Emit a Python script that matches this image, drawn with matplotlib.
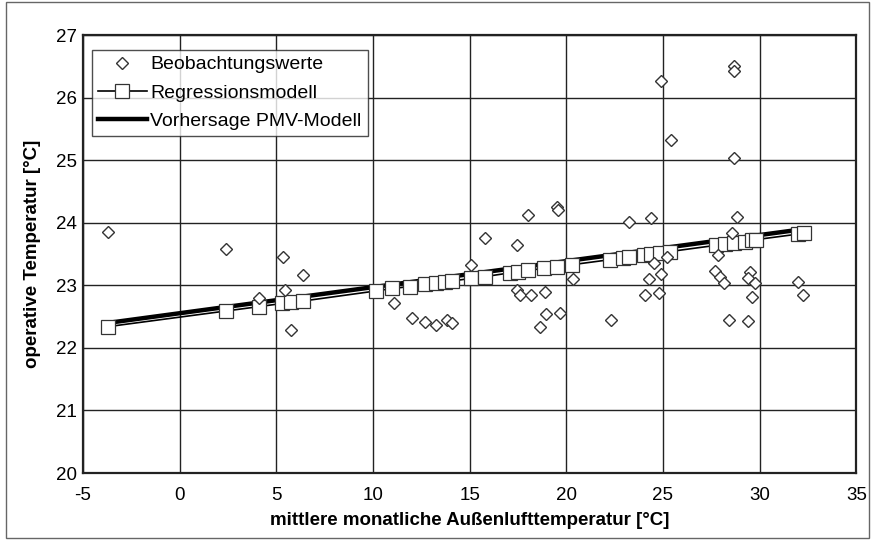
import matplotlib.pyplot as plt
from matplotlib.patches import Rectangle

plt.rcParams["font.family"] = ["Liberation Sans", "DejaVu Sans"]
plt.rcParams["axes.unicode_minus"] = False

# Beobachtungswerte (Außenlufttemperatur, operative Temperatur)
obs_x = [-3.7, 2.4, 4.1, 5.35, 5.45, 5.75, 6.4, 11.1, 12.0, 12.7, 13.25, 13.85, 14.1,
         15.05, 15.8, 17.45, 18.0, 17.45, 17.6, 18.2, 18.9, 18.65, 18.95, 19.5, 19.55,
         19.7, 20.35, 22.3, 23.25, 24.4, 24.55, 25.2, 24.9, 24.3, 24.05, 24.8, 24.9,
         25.4, 28.65, 28.7, 28.7, 28.85, 28.55, 27.85, 27.7, 27.95, 28.15, 29.5, 29.4,
         29.75, 29.6, 28.4, 29.4, 32.0, 32.25]
obs_y = [23.85, 23.58, 22.8, 23.45, 22.93, 22.28, 23.17, 22.72, 22.48, 22.42, 22.36, 22.45, 22.4,
         23.33, 23.76, 23.65, 24.12, 22.93, 22.85, 22.84, 22.9, 22.34, 22.55, 24.25, 24.2,
         22.56, 23.1, 22.45, 24.02, 24.07, 23.36, 23.45, 23.18, 23.1, 22.85, 22.87, 26.27,
         25.33, 26.5, 26.42, 25.03, 24.1, 23.83, 23.48, 23.23, 23.13, 23.04, 23.22, 23.12,
         23.03, 22.82, 22.45, 22.43, 23.05, 22.85]

# Regressionsmodell
reg_x = [-3.7, 2.4, 4.1, 5.3, 5.75, 6.4, 10.15, 11.0, 11.9, 12.7, 13.25, 13.75, 14.1,
         15.05, 15.8, 17.1, 17.5, 18.0, 18.85, 19.5, 20.3, 22.25, 22.95, 23.25, 24.0,
         24.4, 24.85, 25.35, 27.75, 28.2, 28.7, 29.25, 29.6, 29.8, 32.0, 32.3]
reg_y = [22.34, 22.59, 22.66, 22.71, 22.73, 22.75, 22.91, 22.95, 22.98, 23.02, 23.04, 23.06, 23.07,
         23.11, 23.14, 23.2, 23.22, 23.24, 23.27, 23.3, 23.33, 23.41, 23.44, 23.45, 23.49,
         23.5, 23.52, 23.54, 23.64, 23.66, 23.68, 23.7, 23.72, 23.73, 23.82, 23.83]

# Vorhersage PMV-Modell
pmv_x = [-3.7, 32.3]
pmv_y = [22.40, 23.90]

x_ticks = [-5, 0, 5, 10, 15, 20, 25, 30, 35]
y_ticks = [20, 21, 22, 23, 24, 25, 26, 27]

fig = plt.figure(figsize=(8.72, 5.4), dpi=100)
ax = fig.add_axes([0.095, 0.124, 0.887, 0.811])

ax.plot(pmv_x, pmv_y, color="black", lw=3.2, zorder=3, label="Vorhersage PMV-Modell")
ax.plot(reg_x, reg_y, color="black", lw=1.2, marker="s", ms=10, mfc="white", mec="#333333",
        mew=0.9, zorder=4, label="Regressionsmodell")
ax.plot(obs_x, obs_y, ls="none", marker="D", ms=6.5, mfc="white", mec="#333333", mew=1.0,
        zorder=5, label="Beobachtungswerte")

ax.set_xlim(-5, 35)
ax.set_ylim(20, 27)
ax.set_xticks(x_ticks)
ax.set_yticks(y_ticks)
ax.tick_params(length=0, labelsize=13.5)
ax.tick_params(axis="x", pad=10)
ax.tick_params(axis="y", pad=4)
ax.grid(True, color="#222222", lw=1.0)
ax.set_axisbelow(True)
for s in ax.spines.values():
    s.set_linewidth(1.6)
    s.set_color("#222222")

ax.set_xlabel("mittlere monatliche Außenlufttemperatur [°C]", fontsize=13.5, fontweight="bold", labelpad=6)
ax.set_ylabel("operative Temperatur [°C]", fontsize=13.5, fontweight="bold", labelpad=11)

handles, labels = ax.get_legend_handles_labels()
leg = ax.legend(handles[::-1], labels[::-1], loc="upper left", bbox_to_anchor=(0.012, 0.966),
                fontsize=14, frameon=True, fancybox=False, edgecolor="#222222",
                handlelength=2.5, handletextpad=0.2, borderpad=0.3, labelspacing=0.55,
                borderaxespad=0)
leg.get_frame().set_linewidth(1.0)
leg.set_zorder(10)

fig.patches.append(Rectangle((0.007, 0.004), 0.989, 0.992, transform=fig.transFigure,
                             fill=False, ec="#666666", lw=1.0))

fig.savefig("out.png", dpi=100)
